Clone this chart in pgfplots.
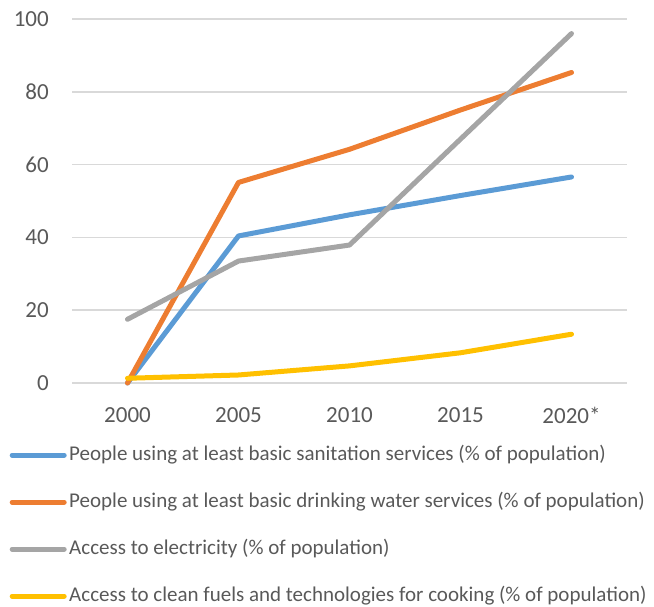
\documentclass[border=0pt]{standalone}
\usepackage{fontspec}
\setmainfont{Carlito}
\usepackage{pgfplots}
\pgfplotsset{compat=1.18}
\definecolor{cblue}{HTML}{5B9BD5}
\definecolor{corange}{HTML}{ED7D31}
\definecolor{cgray}{HTML}{A5A5A5}
\definecolor{cyellow}{HTML}{FFC000}
\definecolor{gridgray}{HTML}{D9D9D9}
\definecolor{textgray}{HTML}{595959}
\begin{document}
\begin{tikzpicture}
\useasboundingbox (0,0) rectangle (654bp,607bp);
\begin{axis}[
at={(72bp,224bp)}, anchor=south west,
scale only axis, width=555bp, height=364bp,
xmin=-0.5, xmax=4.5, ymin=0, ymax=100,
xtick={0,...,4}, xticklabels={2000,2005,2010,2015,2020*},
ytick={0,20,...,100},
axis line style={draw=none}, major tick length=0pt,
ymajorgrids, grid style={line width=1.5bp, gridgray},
clip=false,
tick label style={font=\fontsize{23bp}{28bp}\selectfont, text=textgray},
yticklabel style={anchor=east, inner sep=0pt, xshift=-23bp},
xticklabel style={anchor=north, inner sep=0pt, yshift=-24bp},
/pgf/number format/assume math mode=true,
every axis plot/.append style={line width=5bp, line cap=round, line join=round},
legend cell align=left,
legend image code/.code={\draw[#1] (0bp,0bp) -- (52bp,0bp);},
legend style={at={(axis description cs:-0.1126,-0.170)}, anchor=north west,
  draw=none, fill=none, inner sep=0pt, row sep=27bp, column sep=2.5bp,
  font=\fontsize{21bp}{25bp}\selectfont, text=textgray,
  nodes={inner sep=0pt, text height=15bp, text depth=5bp}},
]
\addplot[cblue] coordinates {(0,0) (1,40.4) (2,46.2) (3,51.5) (4,56.6)};
\addlegendentry{People using at least basic sanitation services (\% of population)}
\addplot[corange] coordinates {(0,0) (1,55.1) (2,64.2) (3,75.0) (4,85.3)};
\addlegendentry{People using at least basic drinking water services (\% of population)}
\addplot[cgray] coordinates {(0,17.5) (1,33.5) (2,37.9) (3,67.0) (4,96.0)};
\addlegendentry{Access to electricity (\% of population)}
\addplot[cyellow] coordinates {(0,1.3) (1,2.2) (2,4.7) (3,8.3) (4,13.4)};
\addlegendentry{Access to clean fuels and technologies for cooking (\% of population)}
\end{axis}
\end{tikzpicture}
\end{document}
